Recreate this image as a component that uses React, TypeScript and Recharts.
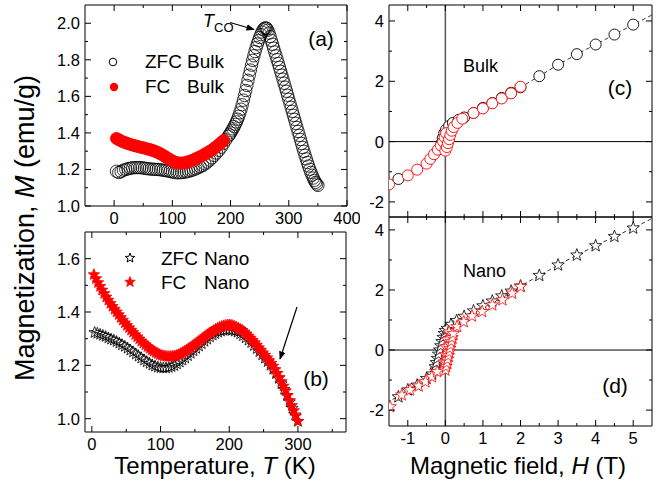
import React from 'react';
import { ComposedChart, Scatter, XAxis, YAxis, ReferenceLine } from 'recharts';

const FONT = '"Liberation Sans", Arial, Helvetica, sans-serif';
const RED = '#ff0000';

// (a) bulk, M vs T
const zfcBulkT = [4, 8, 12, 16, 20, 24, 28, 32, 36, 40, 44, 48, 52, 56, 60, 64, 68, 72, 76, 80,
  84, 88, 92, 96, 100, 104, 108, 112, 116, 120, 124, 128, 132, 136, 140, 144, 148, 152, 156, 160,
  164, 168, 172, 176, 180, 184, 188, 192, 196,
  198, 200, 202, 204, 206, 208, 210, 212, 214, 216, 218, 220, 222, 224, 226, 228, 230, 232, 234, 236,
  238, 240, 242, 244, 246, 248, 250, 252, 254, 256, 258, 260, 262, 264, 266, 268, 270, 272, 274, 276,
  278, 280, 282, 284, 286, 288, 290, 292, 294, 296, 298, 300, 302, 304, 306, 308, 310, 312, 314, 316,
  318, 320, 322, 324, 326, 328, 330, 332, 334, 336, 338, 340, 342, 344, 346, 348, 350];
const zfcBulkM = [1.19, 1.183, 1.188, 1.196, 1.2, 1.204, 1.207, 1.209, 1.21, 1.21, 1.21, 1.209, 1.207, 1.205, 1.203, 1.202, 1.201, 1.2, 1.2, 1.198,
  1.196, 1.194, 1.192, 1.189, 1.186, 1.184, 1.182, 1.182, 1.183, 1.185, 1.187, 1.19, 1.194, 1.198, 1.203, 1.209, 1.215, 1.222, 1.23, 1.24,
  1.251, 1.263, 1.277, 1.29, 1.305, 1.322, 1.342, 1.362, 1.382,
  1.39, 1.4, 1.411, 1.422, 1.434, 1.447, 1.46, 1.475, 1.491, 1.51, 1.53, 1.554, 1.579, 1.605, 1.632, 1.66, 1.688, 1.716, 1.744, 1.771,
  1.797, 1.822, 1.845, 1.867, 1.887, 1.905, 1.922, 1.938, 1.952, 1.964, 1.972, 1.975, 1.972, 1.962, 1.946, 1.927, 1.906, 1.885, 1.864, 1.843,
  1.822, 1.801, 1.78, 1.759, 1.737, 1.716, 1.694, 1.672, 1.65, 1.628, 1.606, 1.584, 1.562, 1.54, 1.518, 1.496, 1.474, 1.452, 1.43, 1.408,
  1.386, 1.364, 1.342, 1.32, 1.299, 1.278, 1.258, 1.238, 1.219, 1.201, 1.184, 1.168, 1.153, 1.14, 1.129, 1.12, 1.113];
const fcBulkT = [4, 8, 12, 16, 20, 24, 28, 32, 36, 40, 44, 48, 52, 56, 60, 64, 68, 72, 76, 80,
  84, 88, 92, 96, 100, 104, 108, 112, 116, 120, 124, 128, 132, 136, 140, 144, 148, 152, 156, 160,
  164, 168, 172, 176, 180, 184, 188];
const fcBulkM = [1.37, 1.363, 1.356, 1.35, 1.346, 1.341, 1.337, 1.333, 1.33, 1.326, 1.323, 1.32, 1.317, 1.313, 1.31, 1.306, 1.302, 1.297, 1.292, 1.285,
  1.278, 1.27, 1.262, 1.254, 1.247, 1.241, 1.237, 1.235, 1.235, 1.236, 1.239, 1.243, 1.247, 1.252, 1.258, 1.264, 1.27, 1.277, 1.284, 1.291,
  1.299, 1.307, 1.316, 1.326, 1.336, 1.347, 1.359];

// (b) nano, M vs T
const fcNanoT = [3, 6, 9, 12, 15, 18, 21, 24, 27, 30, 33, 36, 39, 42, 45, 48, 51, 54, 57, 60,
  63, 66, 69, 72, 75, 78, 81, 84, 87, 90, 93, 96, 99, 102, 105, 108, 111, 114, 117, 120,
  123, 126, 129, 132, 135, 138, 141, 144, 147, 150, 153, 156, 159, 162, 165, 168, 171, 174, 177, 180,
  183, 186, 189, 192, 195, 198, 201, 204, 207, 210, 213, 216, 219, 222, 225, 228, 231, 234, 237, 240,
  243, 246, 249, 252, 255, 258, 261, 264, 267, 270, 273, 276, 279, 282, 285, 288, 291, 294, 297, 300];
const fcNanoM = [1.54, 1.525, 1.51, 1.496, 1.482, 1.469, 1.456, 1.444, 1.432, 1.421, 1.41, 1.4, 1.39, 1.379, 1.369, 1.359, 1.35, 1.341, 1.332, 1.324,
  1.315, 1.307, 1.299, 1.291, 1.284, 1.277, 1.27, 1.264, 1.258, 1.253, 1.248, 1.244, 1.24, 1.237, 1.235, 1.234, 1.233, 1.233, 1.234, 1.235,
  1.237, 1.24, 1.244, 1.248, 1.252, 1.257, 1.262, 1.267, 1.273, 1.278, 1.284, 1.29, 1.296, 1.302, 1.308, 1.314, 1.32, 1.325, 1.33, 1.335,
  1.339, 1.343, 1.346, 1.348, 1.35, 1.351, 1.351, 1.35, 1.347, 1.344, 1.34, 1.335, 1.331, 1.325, 1.318, 1.31, 1.302, 1.294, 1.285, 1.276,
  1.266, 1.257, 1.247, 1.238, 1.228, 1.218, 1.208, 1.197, 1.184, 1.17, 1.155, 1.139, 1.122, 1.105, 1.087, 1.068, 1.049, 1.03, 1.01, 0.99];
const zfcNanoT = [4, 8, 12, 16, 20, 24, 28, 32, 36, 40, 44, 48, 52, 56, 60, 64, 68, 72, 76, 80,
  84, 88, 92, 96, 100, 104, 108, 112, 116, 120, 124, 128, 132, 136, 140, 144, 148, 152, 156, 160,
  164, 168, 172, 176, 180, 184, 188, 192, 196, 200, 204, 208, 212, 216, 220, 224, 228, 232, 236, 240,
  244, 248, 252, 256, 260, 264, 268, 272, 276, 280, 284, 288, 292, 296, 300];
const zfcNanoM = [1.323, 1.32, 1.316, 1.312, 1.308, 1.303, 1.298, 1.294, 1.289, 1.283, 1.277, 1.271, 1.264, 1.257, 1.25, 1.242, 1.234, 1.227, 1.22, 1.213,
  1.207, 1.201, 1.197, 1.193, 1.191, 1.19, 1.19, 1.192, 1.195, 1.199, 1.205, 1.212, 1.219, 1.227, 1.236, 1.245, 1.254, 1.263, 1.272, 1.281,
  1.29, 1.298, 1.306, 1.313, 1.319, 1.324, 1.328, 1.331, 1.333, 1.333, 1.331, 1.328, 1.324, 1.318, 1.311, 1.303, 1.294, 1.285, 1.274, 1.263,
  1.251, 1.239, 1.227, 1.214, 1.2, 1.185, 1.169, 1.151, 1.131, 1.11, 1.087, 1.063, 1.039, 1.014, 0.99];

// (c) bulk, M vs H
const bulkBlackH = [-1.25, -0.15, -0.1, -0.07, -0.03, 0.02, 0.1, 0.2, 0.35, 0.5, 0.75, 1.0, 1.25, 1.5, 1.75, 2.0, 2.5, 3.0, 3.5, 4.0, 4.5, 5.0];
const bulkBlackM = [-1.24, -0.25, -0.05, 0.12, 0.28, 0.4, 0.52, 0.62, 0.72, 0.8, 0.95, 1.12, 1.28, 1.45, 1.62, 1.8, 2.17, 2.55, 2.9, 3.22, 3.55, 3.88];
const bulkLineH = [-1.75, -1.25, -0.5, 0.0, 0.5, 1.0, 1.5, 2.0, 2.5, 3.0, 3.5, 4.0, 4.5, 5.0, 5.5, 6.0];
const bulkLineM = [-1.42, -1.24, -0.72, 0.35, 0.8, 1.12, 1.45, 1.8, 2.17, 2.55, 2.9, 3.22, 3.55, 3.88, 4.2, 4.52];
const bulkRedH = [-1.5, -1.0, -0.75, -0.5, -0.4, -0.3, -0.2, -0.12, -0.06, -0.02, 0.02,
  0.0, 0.04, 0.07, 0.1, 0.13, 0.17, 0.22, 0.32, 0.45, 0.75, 1.0, 1.25, 1.5, 1.75, 2.0];
const bulkRedM = [-1.42, -1.12, -0.93, -0.73, -0.57, -0.42, -0.27, -0.13, 0.0, 0.14, 0.28,
  -0.3, -0.18, -0.05, 0.08, 0.22, 0.36, 0.48, 0.62, 0.76, 0.95, 1.1, 1.27, 1.43, 1.6, 1.82];

// (d) nano, M vs H
const nanoBlackH = [-1.25, -1.0, -0.75, -0.5, -0.35, -0.27, -0.24, -0.21, -0.18, -0.15, -0.12, -0.09, -0.06, -0.03, 0.0, 0.05,
  0.15, 0.3, 0.5, 0.75, 1.0, 1.25, 1.5, 1.75, 2.0, 2.5, 3.0, 3.5, 4.0, 4.5, 5.0];
const nanoBlackM = [-1.56, -1.33, -1.17, -0.95, -0.8, -0.56, -0.42, -0.28, -0.14, 0.0, 0.14, 0.28, 0.42, 0.55, 0.65, 0.72,
  0.85, 0.98, 1.12, 1.3, 1.47, 1.63, 1.8, 1.96, 2.13, 2.48, 2.83, 3.16, 3.47, 3.78, 4.06];
const nanoLineH = [-1.75, -1.25, -1.0, -0.5, 0.0, 0.5, 1.0, 1.5, 2.0, 2.5, 3.0, 3.5, 4.0, 4.5, 5.0, 5.5, 6.0];
const nanoLineM = [-1.82, -1.56, -1.33, -0.95, 0.65, 1.12, 1.47, 1.8, 2.13, 2.48, 2.83, 3.16, 3.47, 3.78, 4.06, 4.38, 4.7];
const nanoRedH = [-1.47, -1.16, -0.94, -0.71, -0.53, -0.36, -0.22,
  0.1, 0.05, 0.02, 0.0, -0.03,
  0.0, 0.02, 0.04, 0.06, 0.08, 0.1, 0.12, 0.14, 0.16, 0.18, 0.21,
  0.31, 0.49, 0.71, 0.98, 1.25, 1.52, 1.78, 2.0];
const nanoRedM = [-1.89, -1.5, -1.33, -1.2, -1.06, -0.89, -0.72,
  0.6, 0.35, 0.1, -0.15, -0.4,
  -0.67, -0.55, -0.43, -0.31, -0.19, -0.07, 0.05, 0.17, 0.29, 0.41, 0.55,
  0.78, 0.94, 1.13, 1.28, 1.5, 1.67, 1.89, 2.11];

// tick positions and labels
const tTicksA = [0, 50, 100, 150, 200, 250, 300, 350, 400];
const tMajorsA = [0, 100, 200, 300, 400];
const mTicksA = [1.0, 1.1, 1.2, 1.3, 1.4, 1.5, 1.6, 1.7, 1.8, 1.9, 2.0];
const mMajorsA = [1.0, 1.2, 1.4, 1.6, 1.8, 2.0];
const tTicksB = [0, 50, 100, 150, 200, 250, 300, 350];
const tMajorsB = [0, 100, 200, 300];
const mTicksB = [1.0, 1.1, 1.2, 1.3, 1.4, 1.5, 1.6];
const mMajorsB = [1.0, 1.2, 1.4, 1.6];
const hTicks = [-1, -0.5, 0, 0.5, 1, 1.5, 2, 2.5, 3, 3.5, 4, 4.5, 5];
const hMajors = [-1, 0, 1, 2, 3, 4, 5];
const mhTicks = [-2, -1, 0, 1, 2, 3, 4];
const mhMajors = [-2, 0, 2, 4];

const zip = (xs: number[], ys: number[]) => xs.map((x, i) => ({ x, y: ys[i] }));

type Side = 'bottom' | 'top' | 'left' | 'right';

const tickFor = (side: Side, majors: number[], labels: boolean, digits: number) => (props: any) => {
  const { x, y, payload } = props;
  const v = Number(payload.value);
  const major = majors.some((m) => Math.abs(m - v) < 1e-6);
  const len = major ? 6 : 3;
  let x2 = x;
  let y2 = y;
  if (side === 'bottom') y2 = y - len;
  if (side === 'top') y2 = y + len;
  if (side === 'left') x2 = x + len;
  if (side === 'right') x2 = x - len;
  const txt = v.toFixed(digits);
  return (
    <g>
      <line x1={x} y1={y} x2={x2} y2={y2} stroke="#000" strokeWidth={1} />
      {labels && major && side === 'bottom' && (
        <text x={x} y={y + 18} textAnchor="middle" fontSize={16.5} fontFamily={FONT} fill="#000">{txt}</text>
      )}
      {labels && major && side === 'left' && (
        <text x={x - 5} y={y + 6} textAnchor="end" fontSize={16.5} fontFamily={FONT} fill="#000">{txt}</text>
      )}
    </g>
  );
};

const starPoints = (cx: number, cy: number, r: number) => {
  const pts: string[] = [];
  for (let i = 0; i < 10; i++) {
    const rr = i % 2 === 0 ? r : r * 0.42;
    const a = -Math.PI / 2 + (i * Math.PI) / 5;
    pts.push(`${cx + rr * Math.cos(a)},${cy + rr * Math.sin(a)}`);
  }
  return pts.join(' ');
};

const circleShape = (r: number, stroke: string, fill: string, sw = 1) => (p: any) => (
  <circle cx={p.cx} cy={p.cy} r={r} fill={fill} stroke={stroke} strokeWidth={sw} />
);
const starShape = (r: number, stroke: string, fill: string, sw = 1) => (p: any) => (
  <polygon points={starPoints(p.cx, p.cy, r)} fill={fill} stroke={stroke} strokeWidth={sw} />
);
const noShape = () => <g />;

const AX = { stroke: '#000', strokeWidth: 1 };

interface FrameProps {
  xDomain: [number, number];
  yDomain: [number, number];
  xTicks: number[];
  xMajors: number[];
  yTicks: number[];
  yMajors: number[];
  xDigits: number;
  yDigits: number;
  xLabels: boolean;
  xHeight: number;
  yWidth: number;
}

// four framed axes with inward ticks
const frameAxes = (f: FrameProps) => [
  <XAxis key="xb" type="number" dataKey="x" domain={f.xDomain} ticks={f.xTicks} interval={0} allowDataOverflow
    tickSize={0} tickMargin={0} tickLine={false} axisLine={AX} height={f.xHeight}
    tick={tickFor('bottom', f.xMajors, f.xLabels, f.xDigits)} />,
  <XAxis key="xt" xAxisId="top" orientation="top" type="number" dataKey="x" domain={f.xDomain} ticks={f.xTicks} interval={0}
    allowDataOverflow tickSize={0} tickMargin={0} tickLine={false} axisLine={AX} height={1}
    tick={tickFor('top', f.xMajors, false, 0)} />,
  <YAxis key="yl" type="number" dataKey="y" domain={f.yDomain} ticks={f.yTicks} interval={0} allowDataOverflow
    tickSize={0} tickMargin={0} tickLine={false} axisLine={AX} width={f.yWidth}
    tick={tickFor('left', f.yMajors, true, f.yDigits)} />,
  <YAxis key="yr" yAxisId="right" orientation="right" type="number" dataKey="y" domain={f.yDomain} ticks={f.yTicks} interval={0}
    allowDataOverflow tickSize={0} tickMargin={0} tickLine={false} axisLine={AX} width={1}
    tick={tickFor('right', f.yMajors, false, 0)} />,
];

const PanelA = () => (
  <ComposedChart width={320} height={230} margin={{ top: 4, right: 12, bottom: 0, left: 0 }}>
    {frameAxes({ xDomain: [-50, 400], yDomain: [1.0, 2.1], xTicks: tTicksA, xMajors: tMajorsA, yTicks: mTicksA,
      yMajors: mMajorsA, xDigits: 0, yDigits: 1, xLabels: true, xHeight: 24, yWidth: 45 })}
    <Scatter data={zip(zfcBulkT, zfcBulkM)} shape={circleShape(6.2, '#000', 'none', 0.8)} isAnimationActive={false} />
    <Scatter data={zip(fcBulkT, fcBulkM)} shape={circleShape(6, RED, RED, 0.8)} isAnimationActive={false} />
  </ComposedChart>
);

const PanelB = () => (
  <ComposedChart width={320} height={240} margin={{ top: 11, right: 13, bottom: 0, left: 0 }}>
    {frameAxes({ xDomain: [-10, 370], yDomain: [0.95, 1.7], xTicks: tTicksB, xMajors: tMajorsB, yTicks: mTicksB,
      yMajors: mMajorsB, xDigits: 0, yDigits: 1, xLabels: true, xHeight: 28, yWidth: 45 })}
    <Scatter data={zip(zfcNanoT, zfcNanoM)} shape={starShape(6, '#000', 'none', 0.8)} isAnimationActive={false} />
    <Scatter data={zip(fcNanoT, fcNanoM)} shape={starShape(6, RED, RED, 0.8)} isAnimationActive={false} />
  </ComposedChart>
);

const PanelC = () => (
  <ComposedChart width={316} height={222} margin={{ top: 4, right: 13, bottom: 4, left: 0 }}>
    {frameAxes({ xDomain: [-1.5, 5.5], yDomain: [-2.5, 4.53], xTicks: hTicks, xMajors: hMajors, yTicks: mhTicks,
      yMajors: mhMajors, xDigits: 0, yDigits: 0, xLabels: false, xHeight: 1, yWidth: 39 })}
    <ReferenceLine y={0} stroke="#000" strokeWidth={1} />
    <Scatter data={zip(bulkLineH, bulkLineM)} shape={noShape} line={{ stroke: '#000', strokeWidth: 0.8, strokeDasharray: '4 3' }}
      isAnimationActive={false} />
    <Scatter data={zip(bulkBlackH, bulkBlackM)} shape={circleShape(5.5, '#000', '#fff', 0.9)} isAnimationActive={false} />
    <Scatter data={zip(bulkRedH, bulkRedM)} shape={circleShape(5.5, RED, '#fff', 0.9)} isAnimationActive={false} />
    <ReferenceLine x={0} stroke="#555" strokeWidth={1.5} />
  </ComposedChart>
);

const PanelD = () => (
  <ComposedChart width={316} height={240} margin={{ top: 4, right: 13, bottom: 0, left: 0 }}>
    {frameAxes({ xDomain: [-1.5, 5.5], yDomain: [-2.53, 4.43], xTicks: hTicks, xMajors: hMajors, yTicks: mhTicks,
      yMajors: mhMajors, xDigits: 0, yDigits: 0, xLabels: true, xHeight: 26, yWidth: 39 })}
    <ReferenceLine y={0} stroke="#000" strokeWidth={1} />
    <Scatter data={zip(nanoLineH, nanoLineM)} shape={noShape} line={{ stroke: '#000', strokeWidth: 0.8, strokeDasharray: '4 3' }}
      isAnimationActive={false} />
    <Scatter data={zip(nanoBlackH, nanoBlackM)} shape={starShape(6.5, '#000', '#fff', 0.8)} isAnimationActive={false} />
    <Scatter data={zip(nanoRedH, nanoRedM)} shape={starShape(6.5, RED, '#fff', 0.8)} isAnimationActive={false} />
    <ReferenceLine x={0} stroke="#555" strokeWidth={1.5} />
  </ComposedChart>
);

const txt = { fontFamily: FONT, fill: '#000' };

const Overlay = () => (
  <svg width={666} height={494} style={{ position: 'absolute', left: 0, top: 0, pointerEvents: 'none' }}>
    <defs>
      <marker id="arrowHead" viewBox="0 0 10 10" refX="9" refY="5" markerWidth="7" markerHeight="7" orient="auto">
        <path d="M0,1 L10,5 L0,9 z" fill="#000" />
      </marker>
    </defs>
    <text {...txt} fontSize={27} textAnchor="middle" transform="translate(34,228) rotate(-90)">
      Magnetization, <tspan fontStyle="italic">M</tspan> (emu/g)
    </text>
    <text {...txt} fontSize={24} textAnchor="middle" x={215} y={474}>
      Temperature, <tspan fontStyle="italic">T</tspan> (K)
    </text>
    <text {...txt} fontSize={24} textAnchor="middle" x={518} y={474}>
      Magnetic field, <tspan fontStyle="italic">H</tspan> (T)
    </text>

    {/* panel (a) */}
    <circle cx={113} cy={62} r={3.8} fill="none" stroke="#000" strokeWidth={1} />
    <text {...txt} fontSize={19} x={145} y={68}>ZFC</text>
    <text {...txt} fontSize={19} x={187} y={68}>Bulk</text>
    <circle cx={114} cy={87} r={4.2} fill={RED} />
    <text {...txt} fontSize={19} x={145} y={93}>FC</text>
    <text {...txt} fontSize={19} x={187} y={93}>Bulk</text>
    <text {...txt} fontSize={18} x={203} y={27} fontStyle="italic">T</text>
    <text {...txt} fontSize={13} x={214} y={32}>CO</text>
    <line x1={230} y1={22.5} x2={254} y2={29.5} stroke="#000" strokeWidth={1.2} markerEnd="url(#arrowHead)" />
    <text {...txt} fontSize={21} textAnchor="middle" x={321} y={46}>(a)</text>

    {/* panel (b) */}
    <polygon points={starPoints(130, 258, 5)} fill="none" stroke="#000" strokeWidth={1} />
    <text {...txt} fontSize={19} x={161} y={265}>ZFC</text>
    <text {...txt} fontSize={19} x={204} y={265}>Nano</text>
    <polygon points={starPoints(130, 282, 5.5)} fill={RED} stroke={RED} strokeWidth={0.8} />
    <text {...txt} fontSize={19} x={161} y={289}>FC</text>
    <text {...txt} fontSize={19} x={204} y={289}>Nano</text>
    <line x1={297} y1={307} x2={280} y2={359} stroke="#000" strokeWidth={1.2} markerEnd="url(#arrowHead)" />
    <text {...txt} fontSize={21} textAnchor="middle" x={316} y={386}>(b)</text>

    {/* panel (c) */}
    <text {...txt} fontSize={18} x={463} y={72}>Bulk</text>
    <text {...txt} fontSize={21} textAnchor="middle" x={620} y={95}>(c)</text>

    {/* panel (d) */}
    <text {...txt} fontSize={18} x={463} y={277}>Nano</text>
    <text {...txt} fontSize={21} textAnchor="middle" x={615} y={393}>(d)</text>
  </svg>
);

export default function App() {
  return (
    <div style={{ position: 'absolute', left: 0, top: 0, width: 666, height: 494, background: '#fff', overflow: 'hidden' }}>
      <div style={{ position: 'absolute', left: 40, top: 0 }}><PanelA /></div>
      <div style={{ position: 'absolute', left: 40, top: 220 }}><PanelB /></div>
      <div style={{ position: 'absolute', left: 350, top: 0 }}><PanelC /></div>
      <div style={{ position: 'absolute', left: 350, top: 212 }}><PanelD /></div>
      <Overlay />
    </div>
  );
}
